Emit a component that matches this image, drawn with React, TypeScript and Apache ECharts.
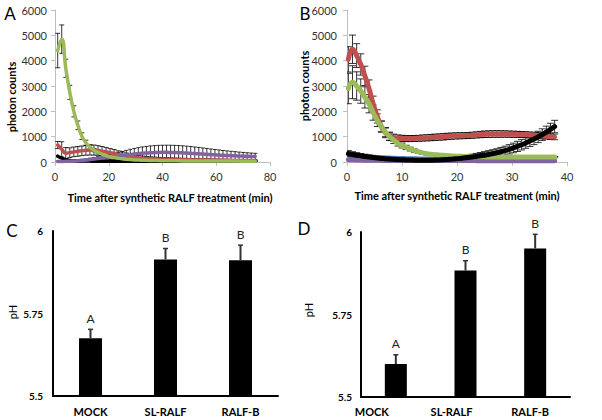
import React, { useEffect, useRef } from 'react';
import * as echarts from 'echarts';

const FONT = 'Lato, "Open Sans", sans-serif';

// ---------- Panel A (time in min) ----------
const timesA = [1, 2.5, 4, 5.5, 7, 8.5, 10, 11.5, 13, 14.5, 16, 17.5, 19, 20.5, 22, 23.5, 25, 26.5, 28, 29.5,
  31, 32.5, 34, 35.5, 37, 38.5, 40, 41.5, 43, 44.5, 46, 47.5, 49, 50.5, 52, 53.5, 55, 56.5, 58, 59.5,
  61, 62.5, 64, 65.5, 67, 68.5, 70, 71.5, 73, 74.5];
const greenA = [4400, 4850, 3700, 2750, 2000, 1450, 1020, 760, 590, 470, 380, 310, 255, 210, 175, 148, 125, 108, 94, 83,
  75, 70, 66, 62, 58, 55, 52, 50, 48, 46, 45, 44, 43, 42, 41, 40, 40, 39, 38, 38,
  37, 37, 36, 36, 35, 35, 34, 34, 33, 33];
const greenAErr = [680, 560, 360, 280, 220, 170, 130, 100, 80, 65, 55, 45, 40, 35, 30, 28, 25, 22, 20, 18,
  16, 15, 15, 14, 14, 14, 13, 13, 13, 12, 12, 12, 12, 11, 11, 11, 11, 10, 10, 10,
  10, 10, 10, 10, 10, 10, 10, 10, 10, 10];
const redA = [670, 500, 350, 370, 400, 420, 440, 460, 475, 470, 455, 430, 400, 370, 340, 300, 265, 235, 205, 180,
  160, 145, 135, 125, 118, 112, 106, 102, 98, 95, 92, 89, 86, 84, 82, 80, 78, 76, 74, 72,
  70, 68, 66, 64, 62, 60, 58, 56, 54, 52];
const redAErr = [140, 300, 220, 190, 190, 190, 190, 190, 200, 200, 190, 180, 170, 160, 150, 140, 130, 120, 110, 100,
  95, 90, 85, 80, 75, 70, 68, 66, 64, 62, 60, 58, 56, 54, 52, 50, 48, 46, 44, 42,
  40, 38, 36, 34, 32, 30, 28, 26, 24, 22];
const blackA = [230, 150, 90, 60, 45, 40, 38, 36, 35, 34, 33, 33, 32, 32, 31, 31, 30, 30, 30, 30,
  30, 30, 31, 31, 32, 32, 33, 33, 34, 34, 35, 35, 36, 36, 36, 37, 37, 37, 38, 38,
  38, 38, 38, 38, 38, 38, 38, 38, 38, 38];
const purpleA = [20, 20, 25, 30, 40, 50, 65, 80, 100, 120, 140, 160, 180, 200, 220, 240, 260, 280, 300, 315,
  330, 345, 355, 365, 372, 378, 380, 380, 378, 375, 370, 362, 355, 345, 335, 325, 315, 305, 295, 285,
  275, 265, 258, 250, 243, 236, 230, 225, 220, 215];
const purpleAErr = [20, 20, 20, 25, 30, 35, 40, 45, 50, 60, 70, 80, 95, 110, 125, 140, 160, 180, 200, 220,
  235, 250, 260, 270, 275, 280, 282, 283, 283, 282, 280, 277, 272, 266, 258, 250, 240, 230, 220, 210,
  200, 190, 180, 172, 164, 156, 148, 140, 134, 128];

// ---------- Panel B ----------
const timesB = [0.25, 1, 1.75, 2.5, 3.25, 4, 4.75, 5.5, 6.25, 7, 7.75, 8.5, 9.25, 10, 10.75, 11.5, 12.25, 13, 13.75, 14.5,
  15.25, 16, 16.75, 17.5, 18.25, 19, 19.75, 20.5, 21.25, 22, 22.75, 23.5, 24.25, 25, 25.75, 26.5, 27.25, 28, 28.75, 29.5,
  30.25, 31, 31.75, 32.5, 33.25, 34, 34.75, 35.5, 36.25, 37, 37.75];
const redB = [4050, 4450, 4200, 3850, 3400, 2900, 2300, 1800, 1400, 1150, 1020, 960, 940, 930, 925, 925, 928, 935, 945, 955,
  965, 975, 985, 995, 1010, 1020, 1030, 1035, 1040, 1045, 1055, 1070, 1085, 1095, 1100, 1105, 1105, 1105, 1105, 1100,
  1095, 1090, 1085, 1080, 1070, 1060, 1045, 1030, 1015, 1000, 990];
const redBErr = [500, 560, 470, 420, 380, 340, 300, 260, 220, 190, 160, 140, 130, 125, 120, 120, 118, 118, 120, 122,
  124, 125, 126, 126, 125, 124, 122, 120, 118, 118, 120, 122, 125, 128, 130, 130, 130, 128, 126, 124,
  122, 120, 118, 116, 115, 114, 113, 112, 112, 112, 112];
const greenB = [2900, 3150, 3000, 2800, 2550, 2300, 1950, 1650, 1400, 1180, 1000, 860, 740, 650, 575, 510, 450, 400, 360, 330,
  305, 290, 275, 262, 250, 240, 232, 226, 220, 215, 211, 208, 205, 203, 201, 200, 199, 198, 197, 197,
  196, 196, 196, 195, 195, 195, 195, 194, 194, 194, 194];
const greenBErr = [600, 650, 560, 480, 420, 360, 300, 250, 210, 180, 150, 130, 110, 95, 85, 75, 65, 58, 52, 46,
  42, 40, 38, 36, 35, 34, 33, 32, 31, 30, 30, 29, 29, 28, 28, 27, 27, 26, 26, 25,
  25, 25, 24, 24, 24, 23, 23, 23, 22, 22, 22];
const blackB = [330, 296, 268, 242, 218, 196, 176, 158, 142, 128, 116, 105, 96, 88, 82, 77, 73, 71, 70, 70,
  72, 76, 82, 90, 100, 112, 126, 142, 160, 178, 198, 220, 244, 270, 298, 330, 365, 405, 450, 500,
  555, 615, 680, 750, 825, 905, 990, 1080, 1180, 1290, 1400];
const blackBErr = [120, 110, 100, 95, 90, 85, 80, 75, 70, 65, 60, 55, 50, 50, 45, 45, 45, 45, 45, 45,
  50, 50, 55, 60, 65, 70, 75, 80, 90, 100, 110, 120, 130, 140, 150, 155, 160, 170, 175, 185,
  190, 200, 205, 210, 215, 220, 225, 230, 235, 240, 245];
const blueB = [310, 300, 290, 280, 270, 260, 250, 240, 230, 222, 215, 208, 202, 196, 192, 188, 185, 182, 180, 178,
  176, 175, 174, 173, 172, 171, 170, 170, 169, 168, 168, 167, 166, 166, 165, 164, 164, 163, 162, 162,
  161, 160, 160, 159, 158, 158, 157, 156, 156, 155, 155];
const purpleB = [90, 85, 80, 76, 72, 70, 68, 66, 64, 62, 61, 60, 60, 59, 59, 58, 58, 58, 57, 57,
  57, 56, 56, 56, 56, 55, 55, 55, 55, 55, 55, 54, 54, 54, 54, 54, 54, 53, 53, 53,
  53, 53, 53, 52, 52, 52, 52, 52, 52, 52, 52];

// ---------- Panels C and D ----------
const categories = ['MOCK', 'SL-RALF', 'RALF-B'];
const letters = ['A', 'B', 'B'];
const phC = [5.675, 5.914, 5.911];
const phCErr = [0.027, 0.033, 0.046];
const phD = [5.6, 5.883, 5.95];
const phDErr = [0.028, 0.03, 0.043];

const GREEN = '#9BBB59';
const RED = '#C0504D';
const PURPLE = '#8064A2';
const BLUE = '#4F81BD';

function lineSeries(gi: number, times: number[], vals: number[], color: string, width: number, z: number) {
  return {
    type: 'line', xAxisIndex: gi, yAxisIndex: gi, z, silent: true,
    data: times.map((t, i) => [t, vals[i]]),
    smooth: true, showSymbol: false, symbol: 'none',
    lineStyle: { color, width, cap: 'round', join: 'round' }, itemStyle: { color },
  };
}

function errSeries(gi: number, times: number[], vals: number[], errs: number[], capW: number, z: number) {
  return {
    type: 'custom', xAxisIndex: gi, yAxisIndex: gi, z, silent: true, clip: true,
    data: times.map((t, i) => [t, vals[i] - errs[i], vals[i] + errs[i]]),
    encode: { x: 0, y: [1, 2] },
    renderItem: (params: any, api: any) => {
      const x = api.value(0);
      const p1 = api.coord([x, api.value(1)]);
      const p2 = api.coord([x, api.value(2)]);
      const style = { stroke: '#000', lineWidth: 0.8 };
      return {
        type: 'group', children: [
          { type: 'line', shape: { x1: p1[0], y1: p1[1], x2: p2[0], y2: p2[1] }, style },
          { type: 'line', shape: { x1: p1[0] - capW / 2, y1: p1[1], x2: p1[0] + capW / 2, y2: p1[1] }, style },
          { type: 'line', shape: { x1: p2[0] - capW / 2, y1: p2[1], x2: p2[0] + capW / 2, y2: p2[1] }, style },
        ],
      };
    },
  };
}

function barErrSeries(gi: number, vals: number[], errs: number[]) {
  return {
    type: 'custom', xAxisIndex: gi, yAxisIndex: gi, z: 5, silent: true,
    data: vals.map((v, i) => [i, v, v + errs[i]]),
    encode: { x: 0, y: [1, 2] },
    renderItem: (params: any, api: any) => {
      const i = api.value(0);
      const a = api.coord([i, api.value(1)]);
      const b = api.coord([i, api.value(2)]);
      return {
        type: 'group', children: [
          { type: 'line', shape: { x1: a[0], y1: a[1], x2: b[0], y2: b[1] }, style: { stroke: '#333', lineWidth: 2 } },
          { type: 'line', shape: { x1: b[0] - 2.5, y1: b[1], x2: b[0] + 2.5, y2: b[1] }, style: { stroke: '#333', lineWidth: 1.5 } },
          {
            type: 'text', x: b[0], y: b[1] - 5,
            style: { text: letters[params.dataIndex], align: 'center', verticalAlign: 'bottom', fontSize: 12, fontFamily: FONT, fill: '#222' },
          },
        ],
      };
    },
  };
}

const grayAxis = {
  axisLine: { show: true, lineStyle: { color: '#bfbfbf', width: 1 } },
  axisTick: { show: true, length: 4, lineStyle: { color: '#bfbfbf' } },
  splitLine: { show: false },
  axisLabel: { color: '#333', fontSize: 11, fontFamily: FONT, formatter: (v: number) => String(v) },
};

const blackAxis = {
  axisLine: { show: true, lineStyle: { color: '#000', width: 2 } },
  axisTick: { show: false },
  splitLine: { show: false },
};

function text(x: number, y: number, s: string, size: number, weight: string, rot = 0) {
  return {
    type: 'text', x, y, rotation: rot, silent: true,
    style: { text: s, fontSize: size, fontWeight: weight, fontFamily: FONT, fill: '#000', align: 'center', verticalAlign: 'middle' },
  };
}

export default function App() {
  const ref = useRef<HTMLDivElement>(null);
  useEffect(() => {
    if (!ref.current) return;
    const chart = echarts.init(ref.current, undefined, { renderer: 'svg' });
    const option: any = {
      animation: false,
      backgroundColor: '#fff',
      grid: [
        { left: 55, top: 10, width: 215, height: 152 },
        { left: 347, top: 10, width: 220, height: 152 },
        { left: 53, top: 231, width: 225, height: 165 },
        { left: 361, top: 232, width: 209, height: 165 },
      ],
      xAxis: [
        { gridIndex: 0, type: 'value', min: 0, max: 80, interval: 20, ...grayAxis, axisLabel: { ...grayAxis.axisLabel, margin: 9 } },
        { gridIndex: 1, type: 'value', min: 0, max: 40, interval: 10, ...grayAxis, axisLabel: { ...grayAxis.axisLabel, margin: 9 } },
        {
          gridIndex: 2, type: 'category', data: categories, ...blackAxis,
          axisLabel: { interval: 0, fontSize: 11, fontWeight: 'bold', fontFamily: FONT, color: '#000', margin: 10 },
        },
        {
          gridIndex: 3, type: 'category', data: categories, ...blackAxis,
          axisLabel: {
            interval: 0, hideOverlap: false,
            fontSize: 11, fontWeight: 'bold', fontFamily: FONT, color: '#000', margin: 9,
            formatter: (v: string, idx: number) => `{s${idx}|${v}}`,
            rich: {
              s0: { fontSize: 11, fontWeight: 'bold', fontFamily: FONT, color: '#000', padding: [0, 48, 0, 0] },
              s1: { fontSize: 11, fontWeight: 'bold', fontFamily: FONT, color: '#000', padding: [0, 28, 0, 0] },
              s2: { fontSize: 11, fontWeight: 'bold', fontFamily: FONT, color: '#000', padding: [0, 10, 0, 0] },
            },
          },
        },
      ],
      yAxis: [
        { gridIndex: 0, type: 'value', min: 0, max: 6000, interval: 1000, ...grayAxis, axisLabel: { ...grayAxis.axisLabel, margin: 8 } },
        { gridIndex: 1, type: 'value', min: 0, max: 6000, interval: 1000, ...grayAxis, axisLabel: { ...grayAxis.axisLabel, margin: 10 } },
        {
          gridIndex: 2, type: 'value', min: 5.5, max: 6, interval: 0.25, ...blackAxis,
          axisLabel: { fontSize: 10, fontWeight: 'bold', fontFamily: FONT, color: '#000', margin: 10 },
        },
        {
          gridIndex: 3, type: 'value', min: 5.5, max: 6, interval: 0.25, ...blackAxis,
          axisLabel: { fontSize: 10, fontWeight: 'bold', fontFamily: FONT, color: '#000', margin: 9 },
        },
      ],
      series: [
        // Panel A
        errSeries(0, timesA, greenA, greenAErr, 5, 2),
        errSeries(0, timesA, redA, redAErr, 5, 2),
        errSeries(0, timesA, purpleA, purpleAErr, 4, 2),
        lineSeries(0, timesA, blackA, '#000', 3.5, 3),
        lineSeries(0, timesA, redA, RED, 3.5, 4),
        lineSeries(0, timesA, purpleA, PURPLE, 3.5, 5),
        lineSeries(0, timesA, greenA, GREEN, 3.5, 6),
        // Panel B
        errSeries(1, timesB, redB, redBErr, 7, 2),
        errSeries(1, timesB, greenB, greenBErr, 7, 2),
        errSeries(1, timesB, blackB, blackBErr, 7, 2),
        lineSeries(1, timesB, purpleB, PURPLE, 5, 3),
        lineSeries(1, timesB, blueB, BLUE, 2, 4),
        lineSeries(1, timesB, redB, RED, 5, 5),
        lineSeries(1, timesB, greenB, GREEN, 5, 6),
        lineSeries(1, timesB, blackB, '#000', 5, 7),
        // Panel C
        { type: 'bar', xAxisIndex: 2, yAxisIndex: 2, data: phC, barWidth: 23, itemStyle: { color: '#000' }, silent: true },
        barErrSeries(2, phC, phCErr),
        // Panel D
        { type: 'bar', xAxisIndex: 3, yAxisIndex: 3, data: phD, barWidth: 22, itemStyle: { color: '#000' }, silent: true },
        barErrSeries(3, phD, phDErr),
      ],
      graphic: [
        text(10, 13, 'A', 17, 'normal'),
        text(305, 13, 'B', 17, 'normal'),
        text(12, 230, 'C', 17, 'normal'),
        text(304, 228, 'D', 17, 'normal'),
        text(11, 97, 'photon counts', 11, 'bold', Math.PI / 2),
        text(304, 86, 'photon counts', 11, 'bold', Math.PI / 2),
        text(170, 197, 'Time after synthetic RALF treatment (min)', 11, 'bold'),
        text(457, 195, 'Time after synthetic RALF treatment (min)', 11, 'bold'),
        text(12, 312, 'pH', 11, 'normal', Math.PI / 2),
        text(308, 310, 'pH', 11, 'normal', Math.PI / 2),
      ],
    };
    chart.setOption(option);
    return () => chart.dispose();
  }, []);
  return <div ref={ref} style={{ position: 'fixed', left: 0, top: 0, width: 602, height: 420, background: '#fff' }} />;
}
